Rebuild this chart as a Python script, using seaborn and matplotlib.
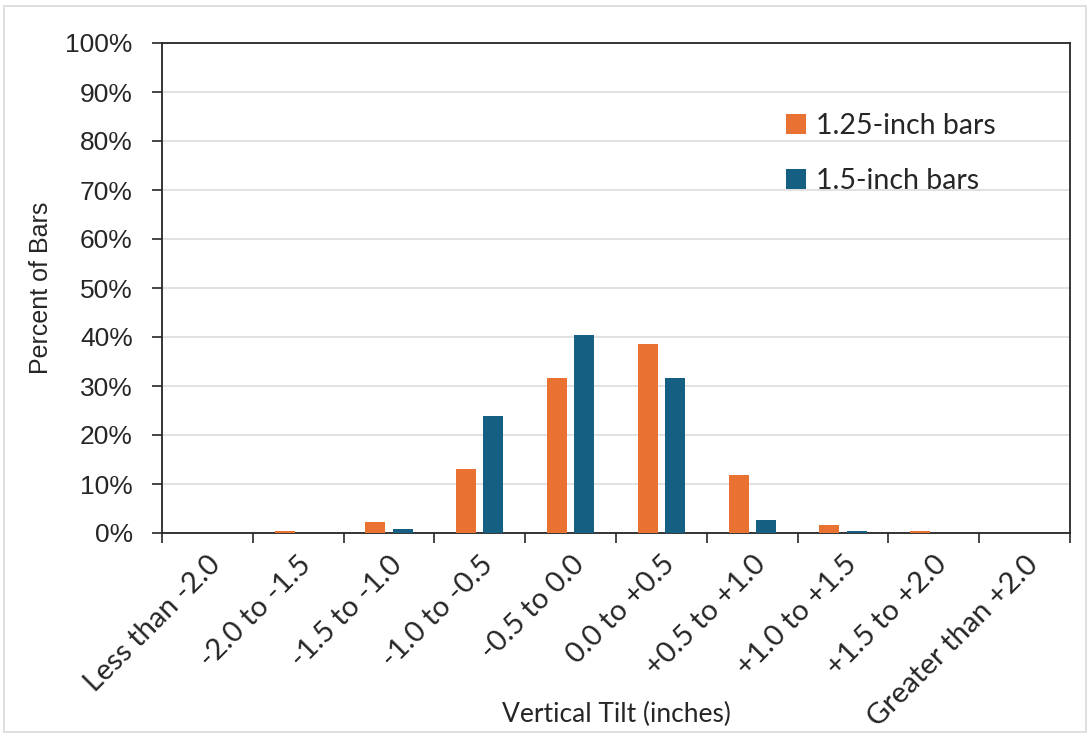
import matplotlib
matplotlib.use("Agg")
import matplotlib.pyplot as plt
import seaborn as sns
import pandas as pd
import numpy as np
from matplotlib.ticker import FixedLocator, PercentFormatter
from matplotlib.patches import Rectangle

categories = ["Less than -2.0", "-2.0 to -1.5", "-1.5 to -1.0", "-1.0 to -0.5",
              "-0.5 to 0.0", "0.0 to +0.5", "+0.5 to +1.0", "+1.0 to +1.5",
              "+1.5 to +2.0", "Greater than +2.0"]
series_names = ["1.25-inch bars", "1.5-inch bars"]
vals_125 = [0.0, 0.4, 2.2, 13.0, 31.6, 38.6, 11.8, 1.6, 0.4, 0.0]
vals_15 = [0.0, 0.0, 0.8, 23.9, 40.4, 31.6, 2.6, 0.5, 0.0, 0.0]
colors = ["#E97132", "#156082"]
y_ticks = [0, 10, 20, 30, 40, 50, 60, 70, 80, 90, 100]

df = pd.DataFrame({
    "category": categories * 2,
    "series": [series_names[0]] * len(categories) + [series_names[1]] * len(categories),
    "value": vals_125 + vals_15,
})

sns.set_theme(style="white")
plt.rcParams['font.family'] = ['Liberation Sans', 'DejaVu Sans']

fig = plt.figure(figsize=(10.9, 7.36), dpi=100)
ax = fig.add_axes([162/1090, 1 - 533/736, (1070-162)/1090, (533-43)/736])

sns.barplot(data=df, x="category", y="value", hue="series", order=categories,
            hue_order=series_names, palette=colors, width=0.6, gap=0.27,
            saturation=1, linewidth=0, ax=ax, zorder=3)

ax.set_ylim(0, 100)
ax.set_xlim(-0.5, len(categories) - 0.5)
ax.yaxis.set_major_locator(FixedLocator(y_ticks))
ax.yaxis.set_major_formatter(PercentFormatter(decimals=0))
ax.grid(axis="y", color="#d9d9d9", linewidth=1.1, zorder=0)
ax.set_axisbelow(True)

for s in ax.spines.values():
    s.set_visible(True)
    s.set_color("#262626")
    s.set_linewidth(1.3)

ax.tick_params(axis="y", which="major", direction="out", length=7, width=1.2,
               color="#262626", pad=14, labelsize=19, labelcolor="#262626", left=True)
ax.set_xticks(np.arange(len(categories)))
ax.set_xticks(np.arange(len(categories) + 1) - 0.5, minor=True)
ax.tick_params(axis="x", which="major", length=0, pad=13)
ax.tick_params(axis="x", which="minor", direction="out", length=7, width=1.2,
               color="#262626", bottom=True)
ax.set_xticklabels(categories, rotation=45, ha="right", rotation_mode="anchor",
                   fontsize=21, color="#262626", family=["Lato", "DejaVu Sans"])

ax.set_xlabel("Vertical Tilt (inches)", fontsize=19, color="#262626",
              family=["Lato", "DejaVu Sans"])
ax.xaxis.set_label_coords(0.5, -0.345)
ax.set_ylabel("Percent of Bars", fontsize=18, color="#262626", labelpad=9)

leg = ax.legend(loc="upper left", bbox_to_anchor=(0.659, 0.91), frameon=False,
                handlelength=0.7, handleheight=0.7, handletextpad=0.35,
                labelspacing=1.02, prop={"family": ["Lato", "DejaVu Sans"], "size": 20.5})
for t in leg.get_texts():
    t.set_color("#262626")

fig.patches.append(Rectangle((4/1090, 4/736), 1 - 8/1090, 1 - 10/736,
                             transform=fig.transFigure, fill=False,
                             edgecolor="#d9d9d9", linewidth=1.2))

fig.savefig("out.png", dpi=100, facecolor="white")
